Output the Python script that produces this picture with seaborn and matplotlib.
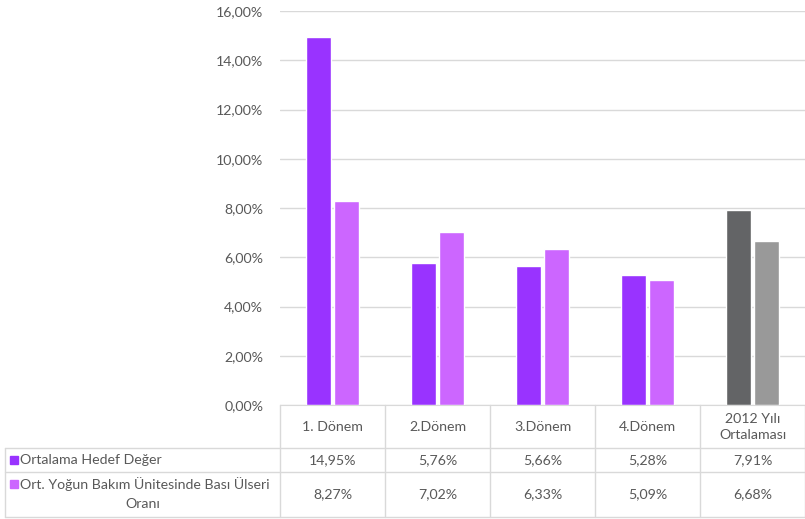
import matplotlib
matplotlib.use('Agg')
from matplotlib import pyplot as plt
import seaborn as sns
import pandas as pd

sns.set_style('white')
plt.rcParams['font.family'] = ['Lato', 'DejaVu Sans']

# Data
donemler = ['1. Dönem', '2.Dönem', '3.Dönem', '4.Dönem', '2012 Yılı\nOrtalaması']
seriler = ['Ortalama Hedef Değer', 'Ort. Yoğun Bakım Ünitesinde Bası Ülseri\nOranı']
hedef = [14.95, 5.76, 5.66, 5.28, 7.91]
ulser = [8.27, 7.02, 6.33, 5.09, 6.68]
yticks = [0, 2, 4, 6, 8, 10, 12, 14, 16]

renkler = ['#9933FF', '#CC66FF']
ort_renkler = ['#636466', '#999999']
izgara = '#D9D9D9'
yazi = '#595959'
fs = 10.2

df = pd.DataFrame({
    'donem': donemler * 2,
    'seri': [seriler[0]] * 5 + [seriler[1]] * 5,
    'deger': hedef + ulser,
})

W, H = 805, 519
fig = plt.figure(figsize=(W / 100, H / 100), dpi=100)

# ana grafik
ax = fig.add_axes([280 / W, (H - 405) / H, 525 / W, 394 / H])
sns.barplot(data=df, x='donem', y='deger', hue='seri', palette=renkler,
            width=0.53, gap=0.1, ax=ax, legend=False, saturation=1)
# son kategori gri
for i, bars in enumerate(ax.containers):
    bars[-1].set_facecolor(ort_renkler[i])

ax.set_xlim(-0.5, 4.5)
ax.set_ylim(0, 16)
ax.set_yticks(yticks)
ax.set_yticklabels([f'{v:.2f}'.replace('.', ',') + '%' for v in yticks])
ax.tick_params(axis='y', length=0, labelsize=fs, colors=yazi, pad=12)
ax.set_xticks([])
ax.set_xlabel('')
ax.set_ylabel('')
ax.grid(axis='y', color=izgara, linewidth=1)
ax.set_axisbelow(True)
for s in ['top', 'right', 'left']:
    ax.spines[s].set_visible(False)
ax.spines['bottom'].set_color(izgara)

# veri tablosu
tx = fig.add_axes([0, 0, 1, 1])
tx.set_xlim(0, W)
tx.set_ylim(H, 0)
tx.axis('off')
kol = [280, 385, 490, 595, 700, 805]
satir = [405, 448, 472, 517]
for x in kol:
    tx.plot([x, x], [405, 517], color=izgara, lw=1)
tx.plot([5, 5], [448, 517], color=izgara, lw=1)
for y in satir[1:]:
    tx.plot([5, 805], [y, y], color=izgara, lw=1)

for j, d in enumerate(donemler):
    xc = (kol[j] + kol[j + 1]) / 2
    tx.text(xc, 427, d, ha='center', va='center', fontsize=fs, color=yazi,
            linespacing=1.4)
    tx.text(xc, 460, f'{hedef[j]:.2f}'.replace('.', ',') + '%', ha='center',
            va='center', fontsize=fs, color=yazi)
    tx.text(xc, 494, f'{ulser[j]:.2f}'.replace('.', ',') + '%', ha='center',
            va='center', fontsize=fs, color=yazi)

tx.add_patch(plt.Rectangle((10, 456), 8, 8, color=renkler[0]))
tx.text(20, 460, seriler[0], ha='left', va='center', fontsize=fs, color=yazi)
tx.add_patch(plt.Rectangle((10, 480), 8, 8, color=renkler[1]))
tx.text(20, 484, seriler[1].split('\n')[0], ha='left', va='center', fontsize=fs, color=yazi)
tx.text(143, 504, seriler[1].split('\n')[1], ha='center', va='center', fontsize=fs, color=yazi)

fig.savefig('out.png', dpi=100)
